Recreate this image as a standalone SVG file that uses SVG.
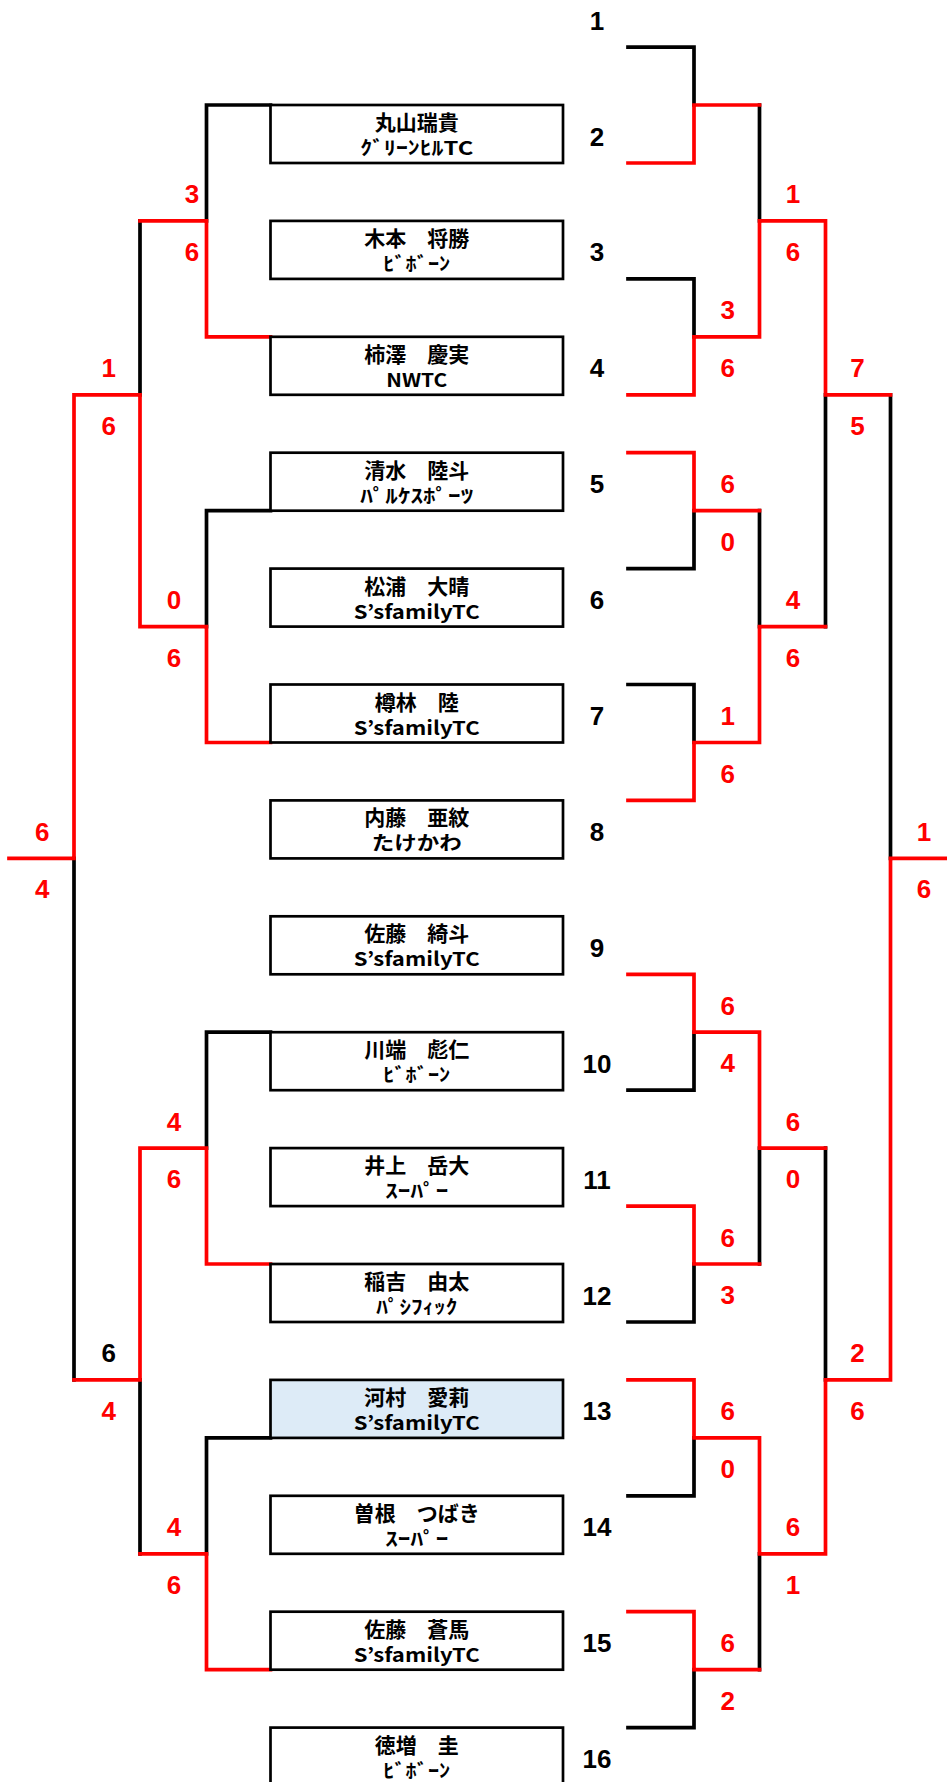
<svg xmlns="http://www.w3.org/2000/svg" width="947" height="1782" viewBox="0 0 947 1782">
<style>
.k{fill:none;stroke:#000;stroke-width:3.7;stroke-linecap:square}
.r{fill:none;stroke:#f00;stroke-width:3.7;stroke-linecap:square}
.box{fill:#fff;stroke:#000;stroke-width:2.7}
.hl{fill:#DDEBF7}
.nm{font-family:"Noto Sans CJK JP","Liberation Sans",sans-serif;font-weight:bold;font-size:21px;text-anchor:middle;fill:#000}
.cl{font-family:"Noto Sans CJK JP","Liberation Sans",sans-serif;font-weight:bold;font-size:19px;text-anchor:middle;fill:#000}
.no{font-family:"Liberation Sans",Arial,sans-serif;font-weight:bold;font-size:26px;text-anchor:middle;fill:#000}
.s{font-family:"Liberation Sans",Arial,sans-serif;font-weight:bold;font-size:26px;text-anchor:middle;fill:#f00}
.sk{fill:#000}
</style>
<rect width="947" height="1782" fill="#fff"/>
<g id="connectors">
<path class="k" d="M206.5 105H270.5M206.5 105V220.9M206.5 510.7H270.5M206.5 510.7V626.6M140 220.9V394.8M74 858.4V1379.9M206.5 1032.2H270.5M206.5 1032.2V1148.1M206.5 1437.9H270.5M206.5 1437.9V1553.8M140 1379.9V1553.8M628 47.1H694V105M628 278.9H694V336.8M694 510.7V568.6H628M628 684.5H694V742.5M694 1032.2V1090.2H628M694 1264V1322H628M694 1437.9V1495.8H628M694 1669.7V1727.6H628M759.5 105V220.9M759.5 510.7V626.6M759.5 1148.1V1264M759.5 1553.8V1669.7M825.5 394.8V626.6M825.5 1148.1V1379.9M890.5 394.8V858.4"/>
<path class="r" d="M140 220.9H206.5V336.8H270.5M140 626.6H206.5V742.5H270.5M74 394.8H140V626.6M74 394.8V858.4H9M74 1379.9H140M140 1148.1V1379.9M140 1148.1H206.5V1264H270.5M140 1553.8H206.5V1669.7H270.5M628 163H694V105H759.5M628 394.8H694V336.8H759.5M628 452.7H694V510.7H759.5M759.5 742.5H694V800.4H628M628 974.3H694V1032.2H759.5M628 1206.1H694V1264H759.5M628 1379.9H694V1437.9H759.5M628 1611.7H694V1669.7H759.5M759.5 336.8V220.9H825.5V394.8H890.5M759.5 742.5V626.6H825.5M759.5 1032.2V1148.1H825.5M759.5 1437.9V1553.8H825.5V1379.9H890.5V858.4H947"/>
</g>
<g id="p1"><text class="no" x="597" y="29.6">1</text></g>
<g id="p2"><rect class="box" x="270.5" y="105" width="292.5" height="58"/><text class="nm" x="416.75" y="130">丸山瑞貴</text><text class="cl" x="416.75" y="155" textLength="113" lengthAdjust="spacingAndGlyphs">ｸﾞﾘｰﾝﾋﾙTC</text><text class="no" x="597" y="145.5">2</text></g>
<g id="p3"><rect class="box" x="270.5" y="220.9" width="292.5" height="58"/><text class="nm" x="416.75" y="245.9">木本　将勝</text><text class="cl" x="416.75" y="270.9" textLength="67" lengthAdjust="spacingAndGlyphs">ﾋﾞﾎﾞｰﾝ</text><text class="no" x="597" y="261.4">3</text></g>
<g id="p4"><rect class="box" x="270.5" y="336.8" width="292.5" height="58"/><text class="nm" x="416.75" y="361.8">柿澤　慶実</text><text class="cl" x="416.75" y="386.8" textLength="61" lengthAdjust="spacingAndGlyphs">NWTC</text><text class="no" x="597" y="377.3">4</text></g>
<g id="p5"><rect class="box" x="270.5" y="452.7" width="292.5" height="58"/><text class="nm" x="416.75" y="477.7">清水　陸斗</text><text class="cl" x="416.75" y="502.7" textLength="113" lengthAdjust="spacingAndGlyphs">ﾊﾟﾙｹｽﾎﾟｰﾂ</text><text class="no" x="597" y="493.2">5</text></g>
<g id="p6"><rect class="box" x="270.5" y="568.6" width="292.5" height="58"/><text class="nm" x="416.75" y="593.6">松浦　大晴</text><text class="cl" x="416.75" y="618.6" textLength="126" lengthAdjust="spacingAndGlyphs">S’sfamilyTC</text><text class="no" x="597" y="609.1">6</text></g>
<g id="p7"><rect class="box" x="270.5" y="684.5" width="292.5" height="58"/><text class="nm" x="416.75" y="709.5">樽林　陸</text><text class="cl" x="416.75" y="734.5" textLength="126" lengthAdjust="spacingAndGlyphs">S’sfamilyTC</text><text class="no" x="597" y="725">7</text></g>
<g id="p8"><rect class="box" x="270.5" y="800.4" width="292.5" height="58"/><text class="nm" x="416.75" y="825.4">内藤　亜紋</text><text class="cl" x="416.75" y="850.4" textLength="90" lengthAdjust="spacingAndGlyphs">たけかわ</text><text class="no" x="597" y="840.9">8</text></g>
<g id="p9"><rect class="box" x="270.5" y="916.3" width="292.5" height="58"/><text class="nm" x="416.75" y="941.3">佐藤　綺斗</text><text class="cl" x="416.75" y="966.3" textLength="126" lengthAdjust="spacingAndGlyphs">S’sfamilyTC</text><text class="no" x="597" y="956.8">9</text></g>
<g id="p10"><rect class="box" x="270.5" y="1032.2" width="292.5" height="58"/><text class="nm" x="416.75" y="1057.2">川端　彪仁</text><text class="cl" x="416.75" y="1082.2" textLength="67" lengthAdjust="spacingAndGlyphs">ﾋﾞﾎﾞｰﾝ</text><text class="no" x="597" y="1072.7">10</text></g>
<g id="p11"><rect class="box" x="270.5" y="1148.1" width="292.5" height="58"/><text class="nm" x="416.75" y="1173.1">井上　岳大</text><text class="cl" x="416.75" y="1198.1" textLength="63" lengthAdjust="spacingAndGlyphs">ｽｰﾊﾟｰ</text><text class="no" x="597" y="1188.6">11</text></g>
<g id="p12"><rect class="box" x="270.5" y="1264" width="292.5" height="58"/><text class="nm" x="416.75" y="1289">稲吉　由太</text><text class="cl" x="416.75" y="1314" textLength="81" lengthAdjust="spacingAndGlyphs">ﾊﾟｼﾌｨｯｸ</text><text class="no" x="597" y="1304.5">12</text></g>
<g id="p13"><rect class="box hl" x="270.5" y="1379.9" width="292.5" height="58"/><text class="nm" x="416.75" y="1404.9">河村　愛莉</text><text class="cl" x="416.75" y="1429.9" textLength="126" lengthAdjust="spacingAndGlyphs">S’sfamilyTC</text><text class="no" x="597" y="1420.4">13</text></g>
<g id="p14"><rect class="box" x="270.5" y="1495.8" width="292.5" height="58"/><text class="nm" x="416.75" y="1520.8">曽根　つばき</text><text class="cl" x="416.75" y="1545.8" textLength="63" lengthAdjust="spacingAndGlyphs">ｽｰﾊﾟｰ</text><text class="no" x="597" y="1536.3">14</text></g>
<g id="p15"><rect class="box" x="270.5" y="1611.7" width="292.5" height="58"/><text class="nm" x="416.75" y="1636.7">佐藤　蒼馬</text><text class="cl" x="416.75" y="1661.7" textLength="126" lengthAdjust="spacingAndGlyphs">S’sfamilyTC</text><text class="no" x="597" y="1652.2">15</text></g>
<g id="p16"><rect class="box" x="270.5" y="1727.6" width="292.5" height="58"/><text class="nm" x="416.75" y="1752.6">徳増　圭</text><text class="cl" x="416.75" y="1777.6" textLength="67" lengthAdjust="spacingAndGlyphs">ﾋﾞﾎﾞｰﾝ</text><text class="no" x="597" y="1768.1">16</text></g>
<g id="scores">
<text class="s" x="192" y="203.4">3</text><text class="s" x="192" y="260.9">6</text>
<text class="s" x="174" y="609.1">0</text><text class="s" x="174" y="666.6">6</text>
<text class="s" x="174" y="1130.6">4</text><text class="s" x="174" y="1188.1">6</text>
<text class="s" x="174" y="1536.3">4</text><text class="s" x="174" y="1593.8">6</text>
<text class="s" x="108.7" y="377.3">1</text><text class="s" x="108.7" y="434.8">6</text>
<text class="s sk" x="108.7" y="1362.4">6</text><text class="s" x="108.7" y="1419.9">4</text>
<text class="s" x="42.3" y="840.9">6</text><text class="s" x="42.3" y="898.4">4</text>
<text class="s" x="727.7" y="319.3">3</text><text class="s" x="727.7" y="376.8">6</text>
<text class="s" x="727.7" y="493.2">6</text><text class="s" x="727.7" y="550.7">0</text>
<text class="s" x="727.7" y="725">1</text><text class="s" x="727.7" y="782.5">6</text>
<text class="s" x="727.7" y="1014.7">6</text><text class="s" x="727.7" y="1072.2">4</text>
<text class="s" x="727.7" y="1246.5">6</text><text class="s" x="727.7" y="1304">3</text>
<text class="s" x="727.7" y="1420.4">6</text><text class="s" x="727.7" y="1477.9">0</text>
<text class="s" x="727.7" y="1652.2">6</text><text class="s" x="727.7" y="1709.7">2</text>
<text class="s" x="793" y="203.4">1</text><text class="s" x="793" y="260.9">6</text>
<text class="s" x="793" y="609.1">4</text><text class="s" x="793" y="666.6">6</text>
<text class="s" x="793" y="1130.6">6</text><text class="s" x="793" y="1188.1">0</text>
<text class="s" x="793" y="1536.3">6</text><text class="s" x="793" y="1593.8">1</text>
<text class="s" x="857.5" y="377.3">7</text><text class="s" x="857.5" y="434.8">5</text>
<text class="s" x="857.5" y="1362.4">2</text><text class="s" x="857.5" y="1419.9">6</text>
<text class="s" x="924" y="840.9">1</text><text class="s" x="924" y="898.4">6</text>
</g>
</svg>
